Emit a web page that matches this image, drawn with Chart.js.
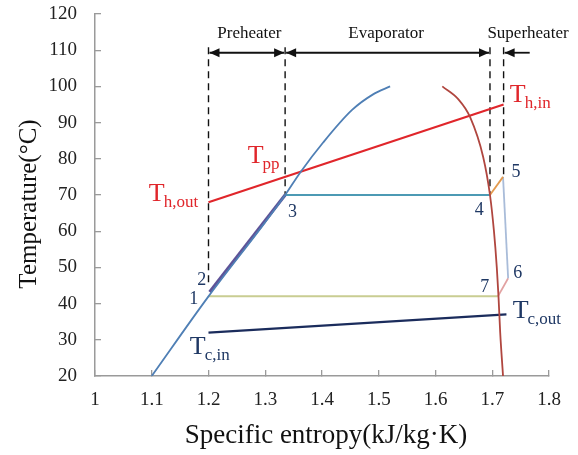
<!DOCTYPE html>
<html>
<head>
<meta charset="utf-8">
<script src="https://cdn.jsdelivr.net/npm/chart.js@4.4.1/dist/chart.umd.min.js"></script>
<style>
  html, body { margin:0; padding:0; background:#fff; }
  #wrap { width:578px; height:455px; }
</style>
</head>
<body>
<div id="wrap"><canvas id="c" width="578" height="455"></canvas></div>
<script>
// Axis ticks
const xTicks = [1, 1.1, 1.2, 1.3, 1.4, 1.5, 1.6, 1.7, 1.8];
const yTicks = [20, 30, 40, 50, 60, 70, 80, 90, 100, 110, 120];

// Saturation dome (entropy, temperature)
const liquidS = [1.1, 1.2, 1.3, 1.335, 1.362, 1.402, 1.453, 1.49, 1.52];
const liquidT = [20, 42, 62.5, 70, 76.3, 84.5, 93.5, 97.8, 100];
const vaporS  = [1.612, 1.64, 1.661, 1.684, 1.696, 1.703, 1.708, 1.711, 1.714, 1.719];
const vaporT  = [100, 96.5, 91.5, 80.5, 70, 60, 50, 42, 32, 20];

// Cycle state points 1..7
const cycleS = [1.2, 1.202, 1.335, 1.696, 1.719, 1.728, 1.71];
const cycleT = [42, 43.2, 70, 70, 75, 47, 42];

// Heat source / sink lines
const hotS  = [1.2, 1.72];
const hotT  = [68, 95];
const coldS = [1.2, 1.725];
const coldT = [32, 37];

// Section boundaries (dashed) and their lower ends
const boundS = [1.2, 1.335, 1.696, 1.72];
const boundLow = [44.5, 70, 70, 75];
const boundTop = 110.8;
const arrowT = 109.3;
const sections = ['Preheater', 'Evaporator', 'Superheater'];
const sectionS = [1.272, 1.513, 1.763];
const sectionT = 114.7;

const pts = (xs, ys) => xs.map((x, i) => ({x, y: ys[i]}));
const seg = (a, b) => [{x: cycleS[a], y: cycleT[a]}, {x: cycleS[b], y: cycleT[b]}];

const serif = '"Liberation Serif", "DejaVu Serif", serif';
const navy = '#1f3864';
const red = '#e0262b';

const line = (data, color, width, extra) => Object.assign({
  data, borderColor: color, borderWidth: width, showLine: true,
  pointRadius: 0, fill: false, tension: 0
}, extra || {});

const datasets = [
  line(pts(liquidS, liquidT), '#4f7fb5', 1.8, {cubicInterpolationMode: 'monotone'}),
  line(pts(vaporS, vaporT), '#b0463f', 1.8, {cubicInterpolationMode: 'monotone'}),
  line(seg(1, 2), '#5e5398', 3.2),
  line(seg(2, 3), '#4c9ab4', 1.8),
  line(seg(3, 4), '#e39a4e', 1.8),
  line(seg(4, 5), '#a9bcd9', 1.8),
  line(seg(5, 6), '#e2a2a2', 1.8),
  line(seg(6, 0), '#c9cd92', 2),
  line(pts(hotS, hotT), red, 2.2),
  line(pts(coldS, coldT), '#1b2c5c', 2.2),
];
boundS.forEach((s, i) => datasets.push(
  line([{x: s, y: boundTop}, {x: s, y: boundLow[i]}], '#111', 1.4, {borderDash: [7, 5]})
));

// text labels: [main, subscript, s, T, color]
const subLabels = [
  ['T', 'h,out', 1.0949, 68.3, red],
  ['T', 'pp', 1.269, 78.8, red],
  ['T', 'h,in', 1.731, 95.6, red],
  ['T', 'c,in', 1.167, 26, navy],
  ['T', 'c,out', 1.736, 36, navy],
];
const numLabels = ['1', '2', '3', '4', '5', '6', '7'];
const numS = [1.174, 1.188, 1.348, 1.677, 1.742, 1.745, 1.687];
const numT = [41.2, 46.4, 65.2, 65.8, 76.3, 48.4, 44.5];

function arrowHead(ctx, x, y, dir) {
  ctx.beginPath();
  ctx.moveTo(x, y);
  ctx.lineTo(x - dir * 10, y - 4.5);
  ctx.lineTo(x - dir * 10, y + 4.5);
  ctx.closePath();
  ctx.fill();
}

const decor = {
  id: 'decor',
  afterDatasetsDraw(chart) {
    const ctx = chart.ctx, xs = chart.scales.x, ys = chart.scales.y;
    ctx.save();
    // section arrows
    ctx.strokeStyle = '#111'; ctx.fillStyle = '#111'; ctx.lineWidth = 1.8;
    const ay = ys.getPixelForValue(arrowT);
    const pairs = [[boundS[0], boundS[1]], [boundS[1], boundS[2]]];
    pairs.forEach(([a, b]) => {
      const xa = xs.getPixelForValue(a) + 1, xb = xs.getPixelForValue(b) - 1;
      ctx.beginPath(); ctx.moveTo(xa, ay); ctx.lineTo(xb, ay); ctx.stroke();
      arrowHead(ctx, xa, ay, -1);
      arrowHead(ctx, xb, ay, 1);
    });
    const xs1 = xs.getPixelForValue(1.766), xs2 = xs.getPixelForValue(boundS[3]) + 1;
    ctx.beginPath(); ctx.moveTo(xs1, ay); ctx.lineTo(xs2, ay); ctx.stroke();
    arrowHead(ctx, xs2, ay, -1);

    // section names
    ctx.font = '17px ' + serif;
    ctx.textAlign = 'center'; ctx.textBaseline = 'middle';
    sections.forEach((t, i) => ctx.fillText(t, xs.getPixelForValue(sectionS[i]), ys.getPixelForValue(sectionT)));

    // T labels with subscripts
    ctx.textAlign = 'left'; ctx.textBaseline = 'alphabetic';
    subLabels.forEach(([m, s, x, y, c]) => {
      const px = xs.getPixelForValue(x), py = ys.getPixelForValue(y);
      ctx.fillStyle = c;
      ctx.font = '26px ' + serif;
      ctx.fillText(m, px, py);
      const w = ctx.measureText(m).width;
      ctx.font = '17px ' + serif;
      ctx.fillText(s, px + w - 1, py + 6);
    });

    // state numbers
    ctx.fillStyle = navy;
    ctx.font = '18px ' + serif;
    ctx.textAlign = 'center'; ctx.textBaseline = 'middle';
    numLabels.forEach((t, i) => ctx.fillText(t, xs.getPixelForValue(numS[i]), ys.getPixelForValue(numT[i])));

    // axis titles
    ctx.fillStyle = '#111';
    ctx.font = '27px ' + serif;
    ctx.fillText('Specific entropy(kJ/kg·K)', 326, 436);
    ctx.translate(29, 204);
    ctx.rotate(-Math.PI / 2);
    ctx.font = '25px ' + serif;
    ctx.fillText('Temperature(°C)', 0, 0);
    ctx.restore();
  }
};

new Chart(document.getElementById('c'), {
  type: 'scatter',
  data: { datasets },
  options: {
    responsive: false,
    animation: false,
    layout: { padding: { top: 14, right: 29, left: 0, bottom: 0 } },
    plugins: { legend: { display: false }, tooltip: { enabled: false } },
    scales: {
      x: {
        type: 'linear', min: 1, max: 1.8,
        afterBuildTicks: s => { s.ticks = xTicks.map(v => ({value: v})); },
        afterFit: s => { s.height = 79; s.paddingLeft = 0; s.paddingRight = 0; },
        ticks: { color: '#222', font: { family: serif, size: 19 }, padding: 19,
                 callback: v => String(Math.round(v * 10) / 10) },
        grid: { drawOnChartArea: false, tickLength: -6, color: '#9a9a9a', lineWidth: 1.3 },
        border: { color: '#9a9a9a', width: 1.5 }
      },
      y: {
        type: 'linear', min: 20, max: 120,
        afterBuildTicks: s => { s.ticks = yTicks.map(v => ({value: v})); },
        afterFit: s => { s.width = 95; s.paddingTop = 0; s.paddingBottom = 0; },
        ticks: { color: '#222', font: { family: serif, size: 19 }, padding: 24 },
        grid: { drawOnChartArea: false, tickLength: -6, color: '#9a9a9a', lineWidth: 1.3 },
        border: { color: '#9a9a9a', width: 1.5 }
      }
    }
  },
  plugins: [decor]
});
</script>
</body>
</html>
